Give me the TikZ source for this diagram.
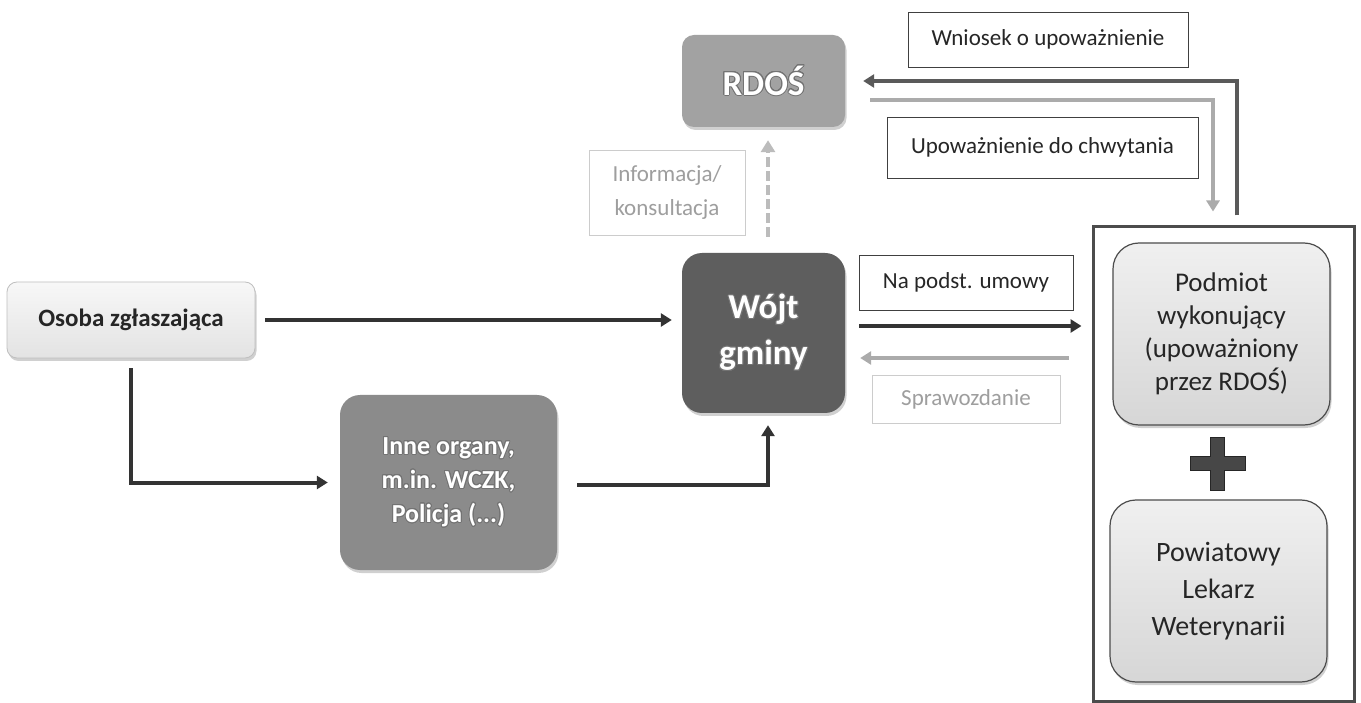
\documentclass[tikz,border=0pt]{standalone}
\usepackage{fontspec}
\setmainfont{Carlito}
\usepackage{contour}
\contourlength{0.9pt}
\contournumber{24}
\usetikzlibrary{arrows.meta,shadows}
\definecolor{darkline}{HTML}{333333}
\definecolor{midline}{HTML}{5A5A5A}
\definecolor{lightline}{HTML}{ABABAB}
\definecolor{wojtfill}{HTML}{5E5E5E}
\definecolor{innefill}{HTML}{8B8B8B}
\definecolor{rdosfill}{HTML}{A2A2A2}
\newcommand{\halo}[1]{\contour{black!55}{#1}}
\begin{document}
\begin{tikzpicture}[x=1pt,y=-1pt,
  shad/.style={drop shadow={shadow xshift=1.5pt,shadow yshift=-3pt,opacity=0.3,fill=black!60}},
  rbox/.style={rectangle,align=center,inner sep=0pt,shad},
  lbl/.style={rectangle,draw=black!75,fill=white,line width=0.8pt,inner sep=0pt,align=center,
     font=\fontsize{23}{34}\selectfont,text=black!85},
  lbllight/.style={lbl,draw=black!20,text=black!38},
  darr/.style={draw=darkline,line width=4pt,-{Triangle[length=11pt,width=13pt]}},
  marr/.style={draw=midline,line width=4pt,-{Triangle[length=11pt,width=13pt]}},
  larr/.style={draw=lightline,line width=4pt,-{Triangle[length=11pt,width=13pt]}},
  dlarr/.style={draw=lightline!80,line width=3.5pt,dash pattern=on 10pt off 4pt,-{Triangle[length=12pt,width=14pt]}}
]
\useasboundingbox (0,0) rectangle (1361,703);
\fill[white] (0,0) rectangle (1361,703);

% main boxes
\node[rbox,rounded corners=10pt,top color=black!3,bottom color=black!11,draw=black!25,line width=0.8pt,
  minimum width=248pt,minimum height=76pt,font=\fontsize{25}{30}\selectfont\bfseries,text=black!85]
  (osoba) at (131,320) {Osoba zgłaszająca};
\node[rbox,rounded corners=20pt,fill=innefill,minimum width=217pt,minimum height=175pt,
  font=\fontsize{26}{34}\selectfont\bfseries,text=white]
  (inne) at (448.5,482.5) {\halo{Inne organy,}\\\halo{m.in. WCZK,}\\\halo{Policja (...)}};
\node[rbox,rounded corners=20pt,fill=wojtfill,minimum width=163pt,minimum height=160pt,
  font=\fontsize{35}{46}\selectfont\bfseries,text=white]
  (wojt) at (763.5,333) {\halo{Wójt}\\\halo{gminy}};
\node[rbox,rounded corners=12pt,fill=rdosfill,minimum width=163pt,minimum height=92pt,
  font=\fontsize{35}{40}\selectfont\bfseries,text=white]
  (rdos) at (763.5,81) {\halo{RDOŚ}};

% right group
\node[rectangle,draw=black!70,line width=3pt,minimum width=261pt,minimum height=474pt]
  (bigbox) at (1223.5,464) {};
\node[rbox,rounded corners=26pt,top color=black!6,bottom color=black!16,draw=black!70,line width=1.2pt,
  minimum width=217pt,minimum height=182pt,font=\fontsize{27}{33}\selectfont,text=black!85]
  (podmiot) at (1221.5,334) {Podmiot\\wykonujący\\(upoważniony\\przez RDOŚ)};
\node[rbox,rounded corners=26pt,top color=black!6,bottom color=black!16,draw=black!70,line width=1.2pt,
  minimum width=217pt,minimum height=182pt,font=\fontsize{28}{37}\selectfont,text=black!85]
  (powiat) at (1218.5,591) {Powiatowy\\Lekarz\\Weterynarii};
\fill[fill=black!72,draw=black!85,line width=0.6pt]
  (1210.5,437) -- (1224.5,437) -- (1224.5,456.5) -- (1245,456.5) -- (1245,470.5) -- (1224.5,470.5)
  -- (1224.5,490) -- (1210.5,490) -- (1210.5,470.5) -- (1190,470.5) -- (1190,456.5) -- (1210.5,456.5) -- cycle;

% labels
\node[lbl,minimum width=280pt,minimum height=55pt] (wniosek) at (1048,39.5) {Wniosek o upoważnienie};
\node[lbl,minimum width=311pt,minimum height=61pt] (upow) at (1042.5,147.5) {Upoważnienie do chwytania};
\node[lbllight,minimum width=156pt,minimum height=85pt] (info) at (667,192.5) {Informacja/\\konsultacja};
\node[lbl,minimum width=214pt,minimum height=55pt] (napodst) at (966,282.5) {Na podst. umowy};
\node[lbllight,minimum width=188pt,minimum height=48pt] (spraw) at (966,399) {Sprawozdanie};

% connectors
\draw[darr,shorten <=10pt,shorten >=10pt] (osoba.east) -- (osoba.east -| wojt.west);
\draw[darr,shorten <=10pt,shorten >=12pt] (osoba.south) |- (inne.west);
\draw[darr,shorten <=20pt,shorten >=12pt] ([yshift=-2pt]inne.east) -| ([xshift=4.5pt]wojt.south);
\draw[dlarr,shorten <=16pt,shorten >=13pt] ([xshift=4.5pt]wojt.north) -- ([xshift=4.5pt]rdos.south);
\draw[darr,shorten <=14pt,shorten >=10pt] ([yshift=7pt]wojt.east) -- ([yshift=7pt]wojt.east -| bigbox.west);
\draw[larr,shorten <=23pt,shorten >=15pt] ([yshift=-25pt]bigbox.west |- wojt.east) -- ([yshift=-25pt]wojt.east);
\draw[marr,shorten <=10pt,shorten >=18pt] ([xshift=13.5pt]bigbox.north) |- (rdos.east);
\draw[larr,shorten <=25pt,shorten >=14pt] ([yshift=-19pt]rdos.east) -| ([xshift=-10.5pt]bigbox.north);
\end{tikzpicture}
\end{document}
